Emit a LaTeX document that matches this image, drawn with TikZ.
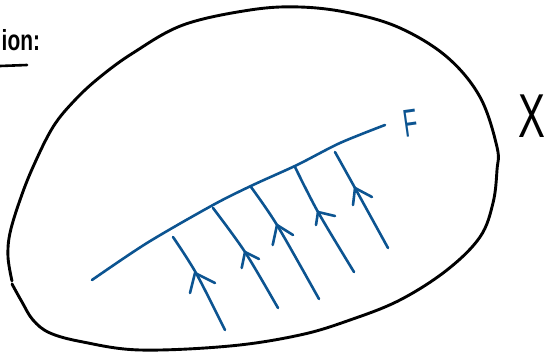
\documentclass[tikz,border=0pt]{standalone}
\usepackage{fontspec}
\newfontfamily\hand{Liberation Sans}
\definecolor{inkblue}{RGB}{12,84,145}
\tikzset{
  blob/.style={draw=black, line width=2.9pt, line cap=round, line join=round},
  flow/.style={draw=inkblue, line width=2.6pt, line cap=round, line join=round},
  lbl/.style={inner sep=0pt, outer sep=0pt}
}
\begin{document}
\begin{tikzpicture}[x=1pt, y=-1pt]
\useasboundingbox (0,0) rectangle (550,358);
% header text
\node[lbl, anchor=base east, xscale=0.72, font=\hand\bfseries\fontsize{29}{29}\selectfont] (hdr) at (40,51) {ion:};
\coordinate (ul1) at (0,66);
\coordinate (ul2) at (27,65);
\draw[blob, line width=2.6pt] (ul1) -- (ul2);
% the space X
\draw[blob] plot[smooth, tension=0.6] coordinates {(12,281) (8,257) (10,233) (20,200) (33,167) (53,127) (75,100) (100,77) (133,53) (183,25) (250,10) (300,7) (350,13) (400,28) (447,57) (480,97) (497,147) (497,170) (493,203) (480,237) (447,270) (400,300) (350,320) (300,335) (230,346) (140,350) (83,342) (50,333) (33,320) (22,302) (12,284)};
\node[lbl, xscale=0.65, font=\hand\fontsize{62}{62}\selectfont] (X) at (532,116) {X};
% the leaf F
\draw[flow] plot[smooth] coordinates {(92,280) (147,243) (213,205) (253,185) (297,165) (340,143) (385,125)};
\node[lbl, rotate=8, xscale=0.6, font=\hand\fontsize{39}{39}\selectfont, text=inkblue] (F) at (411,123) {F};
% flow lines with arrow marks
\draw[flow] plot[smooth] coordinates {(173,237) (196,273) (225,330)};
\draw[flow] (190,293) -- (195,273) -- (215,283);
\draw[flow] plot[smooth] coordinates {(213,208) (245,252) (278,308)};
\draw[flow] (241.7,268) -- (245,252) -- (259,259);
\draw[flow] plot[smooth] coordinates {(251,187) (277,225) (319,299)};
\draw[flow] (272.7,245) -- (277,225) -- (293,235);
\draw[flow] plot[smooth] coordinates {(295,167) (318,212) (354,272)};
\draw[flow] (316,225) -- (318,212) -- (335,216);
\draw[flow] plot[smooth] coordinates {(335,152) (355,188) (388,248)};
\draw[flow] (353,205) -- (355,188) -- (372,197);
\end{tikzpicture}
\end{document}
